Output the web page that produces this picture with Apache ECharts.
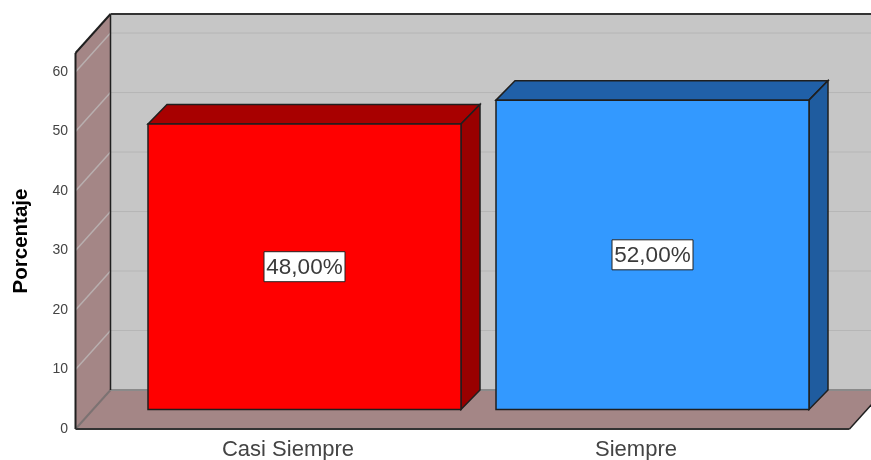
<!DOCTYPE html>
<html>
<head>
<meta charset="utf-8">
<style>
  html, body { margin: 0; background: #fff; }
  #chart { width: 871px; height: 460px; }
</style>
<script src="https://cdn.jsdelivr.net/npm/echarts@6/dist/echarts.min.js"></script>
</head>
<body>
<div id="chart"></div>
<script>
  const categories = ['Casi Siempre', 'Siempre'];
  const values = [48, 52];
  const barColors = ['#ff0000', '#3399ff'];
  const topColors = ['#a80000', '#2060a8'];
  const sideColors = ['#990000', '#1f5c9f'];
  const yTicks = [10, 20, 30, 40, 50, 60];
  const yMax = 63.2;

  // room depth in px, bars stand in the back half of it
  const depthX = 35;
  const depthY = 39;
  const barDepthX = 19;
  const barHalf = 156.5;
  const frontLeft = 75.5;
  const frontRight = 849.5;
  const edge = '#1f1f1f';

  const poly = (points, fill, stroke, width) => ({
    type: 'polygon',
    shape: { points },
    style: { fill, stroke: stroke || 'none', lineWidth: width || 0 }
  });
  const line = (a, b, stroke, width) => ({
    type: 'line',
    shape: { x1: a[0], y1: a[1], x2: b[0], y2: b[1] },
    style: { stroke, lineWidth: width }
  });

  const renderRoom = (params, api) => {
    const y0 = api.coord([0, 0])[1];
    const yT = api.coord([0, yMax])[1];
    const bx = frontLeft + depthX;
    const rx = frontRight + depthX;
    const children = [
      poly([[bx, yT - depthY], [rx, yT - depthY], [rx, y0 - depthY], [bx, y0 - depthY]], '#c6c6c6'),
      poly([[frontLeft, y0], [bx, y0 - depthY], [bx, yT - depthY], [frontLeft, yT]], '#a48686'),
      poly([[frontLeft, y0], [frontRight, y0], [rx, y0 - depthY], [bx, y0 - depthY]], '#a48686')
    ];
    yTicks.forEach((t) => {
      const y = api.coord([0, t])[1];
      children.push(line([frontLeft, y], [bx, y - depthY], '#b9afaf', 1.5));
      children.push(line([bx, y - depthY], [rx, y - depthY], '#b6b6b6', 1));
    });
    children.push(
      line([frontLeft, y0], [bx, y0 - depthY], '#7c7272', 2),
      line([bx, y0 - depthY], [rx, y0 - depthY], '#8a8a8a', 2),
      line([bx, yT - depthY], [bx, y0 - depthY], edge, 1.5),
      line([frontLeft, yT], [frontLeft, y0], edge, 2),
      line([frontLeft, yT], [bx, yT - depthY], edge, 2),
      line([bx, yT - depthY], [rx, yT - depthY], '#333333', 2),
      line([frontLeft, y0], [frontRight, y0], '#333333', 2),
      line([frontRight, y0], [rx, y0 - depthY], edge, 1.5)
    );
    return { type: 'group', children };
  };

  const renderBar = (params, api) => {
    const i = api.value(0);
    const v = api.value(1);
    const base = api.coord([i, 0]);
    const top = api.coord([i, v]);
    const dx = barDepthX;
    const dy = depthY / 2;
    const cx = base[0] + 16.5;
    const l = cx - barHalf;
    const r = cx + barHalf;
    const b = base[1] - dy;
    const t = top[1] - dy;
    const text = v.toFixed(2).replace('.', ',') + '%';
    const midY = (t + b) / 2;
    return {
      type: 'group',
      children: [
        poly([[l, t], [l + dx, t - dy], [r + dx, t - dy], [r, t]], topColors[i], edge, 1.5),
        poly([[r, t], [r + dx, t - dy], [r + dx, b - dy], [r, b]], sideColors[i], edge, 1.5),
        { type: 'rect', shape: { x: l, y: t, width: r - l, height: b - t }, style: { fill: barColors[i], stroke: edge, lineWidth: 1.5 } },
        { type: 'rect', shape: { x: cx - 40.5, y: midY - 15, width: 81, height: 30 }, style: { fill: '#ffffff', stroke: '#222222', lineWidth: 1 } },
        { type: 'text', x: cx, y: midY + 1, style: { text, fill: '#3a3a3a', font: '22.5px "Liberation Sans", Arial, sans-serif', align: 'center', verticalAlign: 'middle' } }
      ]
    };
  };

  const chart = echarts.init(document.getElementById('chart'));
  chart.setOption({
    animation: false,
    grid: { left: 114, width: 696, top: 53, bottom: 31, outerBoundsMode: 'none' },
    xAxis: {
      type: 'category',
      data: categories,
      axisLine: { show: false },
      axisTick: { show: false },
      axisLabel: { color: '#444444', fontSize: 22, fontFamily: 'Liberation Sans', margin: 10 }
    },
    yAxis: {
      type: 'value',
      min: 0,
      max: yMax,
      interval: 10,
      offset: 39,
      name: 'Porcentaje',
      nameLocation: 'middle',
      nameGap: 43,
      nameTextStyle: { color: '#000000', fontSize: 20.5, fontWeight: 'bold', fontFamily: 'Liberation Sans' },
      axisLine: { show: false },
      axisTick: { show: false },
      splitLine: { show: false },
      axisLabel: { color: '#444444', fontSize: 14, fontFamily: 'Liberation Sans', margin: 7, showMaxLabel: false, padding: [4, 0, 0, 0] }
    },
    series: [
      { type: 'custom', silent: true, z: 1, renderItem: renderRoom, data: [[0, 0]] },
      { type: 'custom', z: 2, renderItem: renderBar, data: categories.map((c, i) => [i, values[i]]) }
    ]
  });
</script>
</body>
</html>
